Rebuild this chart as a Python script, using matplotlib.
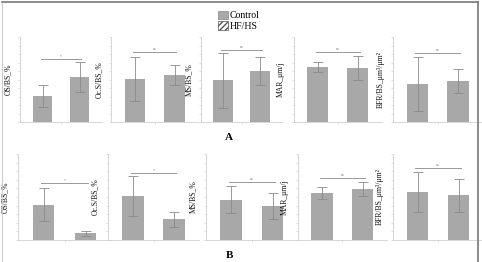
import numpy as np
import matplotlib.pyplot as plt
from matplotlib.patches import Patch
from matplotlib.lines import Line2D

# bar values, control vs HF/HS, row A and row B
labels = ['OS/BS_%', 'Oc.S/BS_%', 'MS/BS_%', 'MAR_\u03bcm/j', 'BFR/BS_\u03bcm\u00b3/\u03bcm\u00b2']
groups = ['Control', 'HF/HS']

ctrl_A = [3.1, 5.1, 4.9, 6.5, 4.5]
ctrl_A_err = [1.3, 2.6, 3.2, 0.6, 3.2]
hf_A = [5.3, 5.5, 6.0, 6.4, 4.8]
hf_A_err = [1.8, 1.2, 1.6, 1.4, 1.4]
sig_A = [7.4, 8.2, 8.5, 8.2, 8.1]
sigtxt_A = ['*', 'ns', 'ns', 'ns', 'ns']

ctrl_B = [4.1, 5.1, 4.7, 5.5, 5.6]
ctrl_B_err = [1.9, 2.3, 1.6, 0.7, 2.3]
hf_B = [0.8, 2.4, 4.0, 5.9, 5.2]
hf_B_err = [0.3, 0.9, 1.5, 0.8, 1.9]
sig_B = [6.6, 7.8, 6.8, 7.2, 8.4]
sigtxt_B = ['*', '*', 'ns', 'ns', 'ns']

W, H = 482, 262
fig = plt.figure(figsize=(W / 100, H / 100), dpi=100)

serif = ['Liberation Serif', 'DejaVu Serif']
bar_col = '#a8a8a8'
err_col = '#8a8a8a'
ax_col = '#d0d0d0'

# bar centre pixels per panel (first, second)
centres_A = [(42.5, 79.5), (135, 174.5), (223, 260), (317.5, 357.5), (417.5, 458)]
centres_B = [(43.5, 85.5), (133, 174), (231, 272.5), (322, 362.5), (417.5, 458.5)]


def panel(c, ytop, ybot, ctrl, cerr, hf, herr, sig, stxt, lab):
    d = c[1] - c[0]
    left = c[0] - 0.6 * d
    ax = fig.add_axes([left / W, 1 - ybot / H, 2.2 * d / W, (ybot - ytop) / H])
    ax.bar([0, 1], [ctrl, hf], width=0.52, color=bar_col, zorder=2)
    ax.errorbar([0, 1], [ctrl, hf], yerr=[cerr, herr], fmt='none', ecolor=err_col,
                elinewidth=0.6, capsize=3.5, capthick=0.6, zorder=3)
    ax.plot([-0.05, 1.05], [sig, sig], color='#999999', lw=0.7)
    ax.text(0.5, sig + 0.1, stxt, ha='center', va='bottom', fontsize=3, color='#777777',
            family=serif)
    ax.set_xlim(-0.6, 1.6)
    ax.set_ylim(0, 10)
    for s in ['top', 'right']:
        ax.spines[s].set_visible(False)
    for s in ['left', 'bottom']:
        ax.spines[s].set_color(ax_col)
        ax.spines[s].set_linewidth(0.6)
    ax.set_xticks([0.5])
    ax.set_xticklabels([])
    ax.set_yticks(np.arange(0, 11, 1))
    ax.set_yticklabels([])
    ax.tick_params(length=1.5, width=0.5, color=ax_col)
    ax.set_ylabel(lab, fontsize=5.5, family=serif, color='#111111')
    ax.yaxis.set_label_coords(-0.1, 0.5)
    ax.set_facecolor('none')
    return ax


for i in range(5):
    panel(centres_A[i], 37, 122, ctrl_A[i], ctrl_A_err[i], hf_A[i], hf_A_err[i],
          sig_A[i], sigtxt_A[i], labels[i])
    panel(centres_B[i], 154, 240, ctrl_B[i], ctrl_B_err[i], hf_B[i], hf_B_err[i],
          sig_B[i], sigtxt_B[i], labels[i])

handles = [Patch(facecolor=bar_col, edgecolor='#888888', lw=0.5),
           Patch(facecolor='white', edgecolor='#555555', hatch='//////', lw=0.5)]
leg = fig.legend(handles, groups, loc='upper left', bbox_to_anchor=(0.438, 0.985),
                 frameon=False, prop={'family': serif, 'size': 7},
                 handlelength=1.0, handleheight=1.0, handletextpad=0.2,
                 labelspacing=0.1, borderpad=0.2)

fig.text(229 / W, 1 - 138 / H, 'A', ha='center', va='center', fontsize=8,
         fontweight='bold', family=serif)
fig.text(230 / W, 1 - 256 / H, 'B', ha='center', va='center', fontsize=8,
         fontweight='bold', family=serif)

# frame around figure
fig.add_artist(Line2D([2 / W, 478 / W], [1 - 2 / H, 1 - 2 / H], color='#777777', lw=1.2))
fig.add_artist(Line2D([478 / W, 478 / W], [1 - 2 / H, 0], color='#777777', lw=1.2))
fig.add_artist(Line2D([1.5 / W, 1.5 / W], [1 - 3 / H, 0], color='#cccccc', lw=0.8))

fig.savefig('out.png', dpi=100)
